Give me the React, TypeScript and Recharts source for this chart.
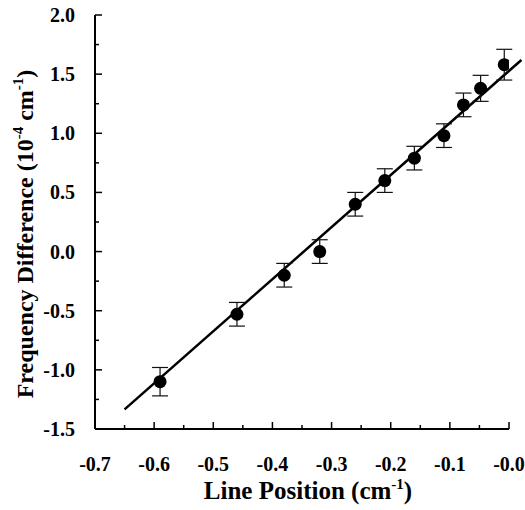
import React from "react";
import {
  ComposedChart,
  Scatter,
  ErrorBar,
  XAxis,
  YAxis,
  ReferenceLine,
  Label,
} from "recharts";

// line position (cm-1)
const positions = [-0.59, -0.46, -0.38, -0.32, -0.26, -0.21, -0.16, -0.11, -0.077, -0.048, -0.008];
// frequency difference (1e-4 cm-1)
const freqDiff = [-1.1, -0.53, -0.2, 0.0, 0.4, 0.6, 0.79, 0.98, 1.24, 1.38, 1.58];
const errors = [0.12, 0.1, 0.1, 0.1, 0.1, 0.1, 0.1, 0.1, 0.1, 0.11, 0.13];

// fitted line end points
const fitLine = [
  { x: -0.65, y: -1.334 },
  { x: 0.021, y: 1.62 },
];

const xMajor = [-0.7, -0.6, -0.5, -0.4, -0.3, -0.2, -0.1, 0];
const xLabels = ["-0.7", "-0.6", "-0.5", "-0.4", "-0.3", "-0.2", "-0.1", "-0.0"];
const xMinor = [-0.65, -0.55, -0.45, -0.35, -0.25, -0.15, -0.05];

const yMajor = [-1.5, -1.0, -0.5, 0, 0.5, 1.0, 1.5, 2.0];
const yLabels = ["-1.5", "-1.0", "-0.5", "0.0", "0.5", "1.0", "1.5", "2.0"];
const yMinor = [-1.25, -0.75, -0.25, 0.25, 0.75, 1.25, 1.75];

const data = positions.map((x, i) => ({ x, y: freqDiff[i], err: errors[i] }));

const FONT = "'Liberation Serif', 'Times New Roman', serif";

const findLabel = (vals, labels, v) => {
  const i = vals.findIndex((m) => Math.abs(m - v) < 1e-6);
  return i >= 0 ? labels[i] : null;
};

const XTick = (props) => {
  const { x, y, payload } = props;
  const label = findLabel(xMajor, xLabels, payload.value);
  return (
    <g>
      <line x1={x} x2={x} y1={y} y2={y - (label ? 7 : 4)} stroke="#000" strokeWidth={1.5} />
      {label && (
        <text x={x} y={y + 42} textAnchor="middle" fontFamily={FONT} fontWeight="bold" fontSize={20} fill="#000">
          {label}
        </text>
      )}
    </g>
  );
};

const YTick = (props) => {
  const { x, y, payload } = props;
  const label = findLabel(yMajor, yLabels, payload.value);
  return (
    <g>
      <line x1={x} x2={x + (label ? 7 : 4)} y1={y} y2={y} stroke="#000" strokeWidth={1.5} />
      {label && (
        <text x={x - 20} y={y + 7} textAnchor="end" fontFamily={FONT} fontWeight="bold" fontSize={20} fill="#000">
          {label}
        </text>
      )}
    </g>
  );
};

const XTitle = ({ viewBox }) => (
  <text
    x={viewBox.x + viewBox.width / 2 + 6}
    y={viewBox.y + 70}
    textAnchor="middle"
    fontFamily={FONT}
    fontWeight="bold"
    fontSize={25}
    fill="#000"
  >
    Line Position (cm
    <tspan fontSize={15} dy={-10}>-1</tspan>
    <tspan dy={10}>)</tspan>
  </text>
);

const YTitle = ({ viewBox }) => {
  const cx = 33;
  const cy = viewBox.y + viewBox.height / 2 + 12;
  return (
    <text
      x={cx}
      y={cy}
      transform={`rotate(-90 ${cx} ${cy})`}
      textAnchor="middle"
      fontFamily={FONT}
      fontWeight="bold"
      fontSize={24}
      fill="#000"
    >
      Frequency Difference (10
      <tspan fontSize={15} dy={-10}>-4</tspan>
      <tspan dy={10}> cm</tspan>
      <tspan fontSize={15} dy={-10}>-1</tspan>
      <tspan dy={10}>)</tspan>
    </text>
  );
};

export default function App() {
  return (
    <div style={{ position: "absolute", left: 0, top: 0 }}>
      <ComposedChart
        width={525}
        height={510}
        data={data}
        margin={{ top: 15, right: 16, left: 0, bottom: 0 }}
      >
        <XAxis
          type="number"
          dataKey="x"
          domain={[-0.7, 0]}
          ticks={[...xMajor, ...xMinor].sort((a, b) => a - b)}
          interval={0}
          height={81}
          tickSize={0}
          tickMargin={0}
          tickLine={false}
          axisLine={{ stroke: "#000", strokeWidth: 2 }}
          tick={<XTick />}
          allowDataOverflow
        >
          <Label content={<XTitle />} />
        </XAxis>
        <YAxis
          type="number"
          dataKey="y"
          domain={[-1.5, 2.0]}
          ticks={[...yMajor, ...yMinor].sort((a, b) => a - b)}
          interval={0}
          width={95}
          tickSize={0}
          tickMargin={0}
          tickLine={false}
          axisLine={{ stroke: "#000", strokeWidth: 2 }}
          tick={<YTick />}
          allowDataOverflow
        >
          <Label content={<YTitle />} />
        </YAxis>
        <ReferenceLine
          segment={fitLine}
          ifOverflow="visible"
          stroke="#000"
          strokeWidth={2.5}
        />
        <Scatter
          dataKey="y"
          isAnimationActive={false}
          shape={(p) => <circle cx={p.cx} cy={p.cy} r={6.5} fill="#000" />}
        >
          <ErrorBar dataKey="err" direction="y" width={8} strokeWidth={1.2} stroke="#111" />
        </Scatter>
      </ComposedChart>
    </div>
  );
}
